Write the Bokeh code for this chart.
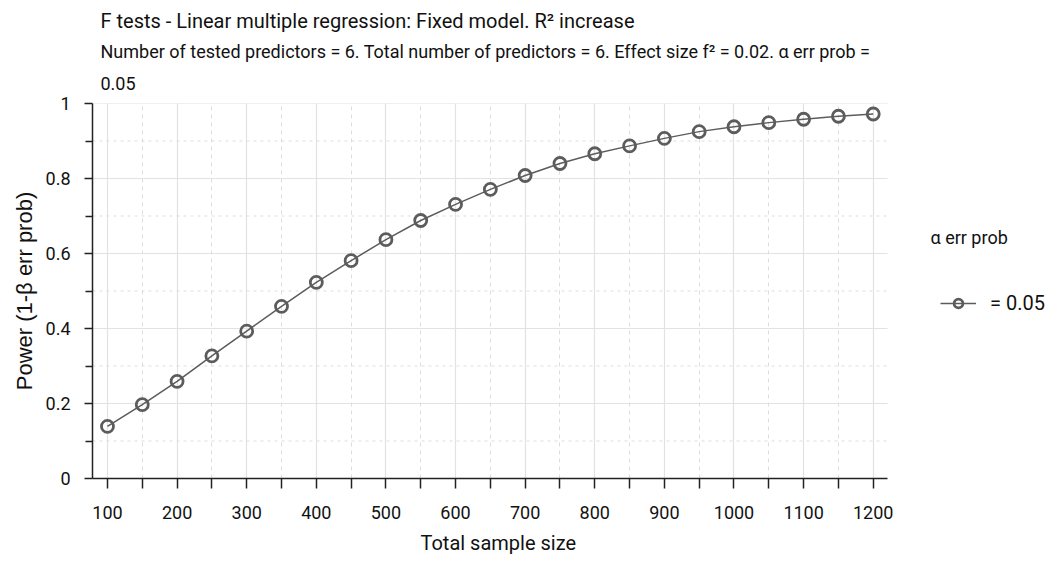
from bokeh.plotting import figure
from bokeh.models import Title, Legend, LegendItem, FixedTicker, Range1d, Label
from bokeh.embed import file_html
from bokeh.resources import INLINE

sample_size = [100, 150, 200, 250, 300, 350, 400, 450, 500, 550, 600, 650,
               700, 750, 800, 850, 900, 950, 1000, 1050, 1100, 1150, 1200]
power = [0.139, 0.197, 0.259, 0.327, 0.393, 0.459, 0.523, 0.581, 0.637, 0.688,
         0.731, 0.771, 0.808, 0.840, 0.866, 0.887, 0.907, 0.925, 0.938, 0.949,
         0.958, 0.966, 0.972]
x_ticks = [100, 200, 300, 400, 500, 600, 700, 800, 900, 1000, 1100, 1200]
x_minor = [150, 250, 350, 450, 550, 650, 750, 850, 950, 1050, 1150]
y_ticks = [0, 0.2, 0.4, 0.6, 0.8, 1]
y_minor = [0.1, 0.3, 0.5, 0.7, 0.9]
legend_title = "α err prob"
series_label = "= 0.05"
title_text = "F tests - Linear multiple regression: Fixed model. R² increase"
subtitle_1 = "Number of tested predictors = 6. Total number of predictors = 6. Effect size f² = 0.02. α err prob ="
subtitle_2 = "0.05"
x_label = "Total sample size"
y_label = "Power (1-β err prob)"

FONT = "Roboto, sans-serif"
GRAY = "#5c5c5c"
X0, X1 = 78.5, 1220.5          # visible data extent of the plotting area
DATA_W = 795                   # pixel width of the plotting area
FRAME_W = 962                  # frame also hosts the legend on the right
PPU = DATA_W / (X1 - X0)
XE = X0 + FRAME_W / PPU

p = figure(frame_width=FRAME_W, frame_height=375, output_backend="svg", toolbar_location=None,
           x_range=Range1d(X0, XE), y_range=Range1d(0, 1),
           min_border_left=92, min_border_top=103, min_border_bottom=84,
           min_border_right=0, title=None)
p.outline_line_color = None
p.background_fill_color = "white"

# grid lines restricted to the plotting area
p.ygrid.visible = False
p.xgrid[0].grid_line_color = "#e2e2e2"
p.xgrid[0].grid_line_width = 1.2
p.xgrid[0].minor_grid_line_color = "#dddddd"
p.xgrid[0].minor_grid_line_dash = "4 4"
p.segment(x0=[X0] * len(y_ticks), x1=[X1] * len(y_ticks), y0=y_ticks, y1=y_ticks,
          line_color="#e2e2e2", line_width=1.2)
p.segment(x0=[X0] * len(y_minor), x1=[X1] * len(y_minor), y0=y_minor, y1=y_minor,
          line_color="#dddddd", line_width=1, line_dash="3 4")

line_r = p.line(sample_size, power, line_color=GRAY, line_width=1.5)
circ_r = p.scatter(sample_size, power, size=12, fill_color="white", fill_alpha=0,
                   line_color=GRAY, line_width=2.8)

for ax in (p.xaxis[0], p.yaxis[0]):
    ax.major_label_text_font = FONT
    ax.major_label_text_font_size = "18px"
    ax.major_label_text_color = "#111111"
    ax.axis_line_color = "#222222"
    ax.axis_line_width = 1.5
    ax.major_tick_line_color = "#222222"
    ax.minor_tick_line_color = "#222222"
    ax.major_tick_line_width = 1.5
    ax.minor_tick_line_width = 1.5
    ax.major_tick_in = 0
    ax.minor_tick_in = 0
    ax.axis_label_text_font_style = "normal"
    ax.axis_label_text_color = "#111111"

p.xaxis[0].bounds = (X0, X1)
p.xaxis[0].major_tick_out = 10
p.xaxis[0].minor_tick_out = 10
p.yaxis[0].major_tick_out = 8
p.yaxis[0].minor_tick_out = 7

p.xaxis[0].ticker = FixedTicker(ticks=x_ticks, minor_ticks=x_minor)
p.yaxis[0].ticker = FixedTicker(ticks=y_ticks, minor_ticks=y_minor)
p.yaxis[0].major_label_overrides = {0: "0", 1: "1"}
p.xaxis[0].major_label_standoff = 17
p.yaxis[0].major_label_standoff = 14

p.yaxis[0].axis_label = y_label
p.yaxis[0].axis_label_text_font = "'Liberation Sans', Arial, sans-serif"
p.yaxis[0].axis_label_text_font_size = "22px"
p.yaxis[0].axis_label_standoff = 6

# x-axis label centred under the plotting area (not under the legend)
p.add_layout(Title(text=x_label, text_font=FONT, text_font_size="20px",
                   text_font_style="normal", text_color="#111111",
                   align="left", offset=328, standoff=14), "below")

# Titles: first added sits closest to the plot
t3 = Title(text=subtitle_2, text_font=FONT, text_font_size="18px",
           text_font_style="normal", offset=8, text_color="#111111", standoff=27)
t2 = Title(text=subtitle_1, text_font=FONT, text_font_size="18px",
           text_font_style="normal", offset=8, text_color="#111111", standoff=0)
t1 = Title(text=title_text, text_font=FONT, text_font_size="20px",
           text_font_style="normal", offset=8, text_color="#111111", standoff=12)
p.add_layout(t3, "above")
p.add_layout(t2, "above")
p.add_layout(t1, "above")

# legend to the right of the plotting area
p.add_layout(Label(x=X0 + 838 / PPU, y=0.643, text=legend_title,
                   text_font=FONT, text_font_size="18px", text_color="#111111",
                   text_baseline="middle", text_align="left"))
legend = Legend(items=[LegendItem(label=series_label, renderers=[line_r, circ_r])],
                label_text_font=FONT, label_text_font_size="20px",
                label_text_color="#111111",
                border_line_color=None, background_fill_alpha=0,
                glyph_width=36, glyph_height=22, label_standoff=14,
                margin=0, padding=0, location=(848, 163))
p.add_layout(legend, "center")

open("out.html", "w").write(file_html(p, INLINE))
